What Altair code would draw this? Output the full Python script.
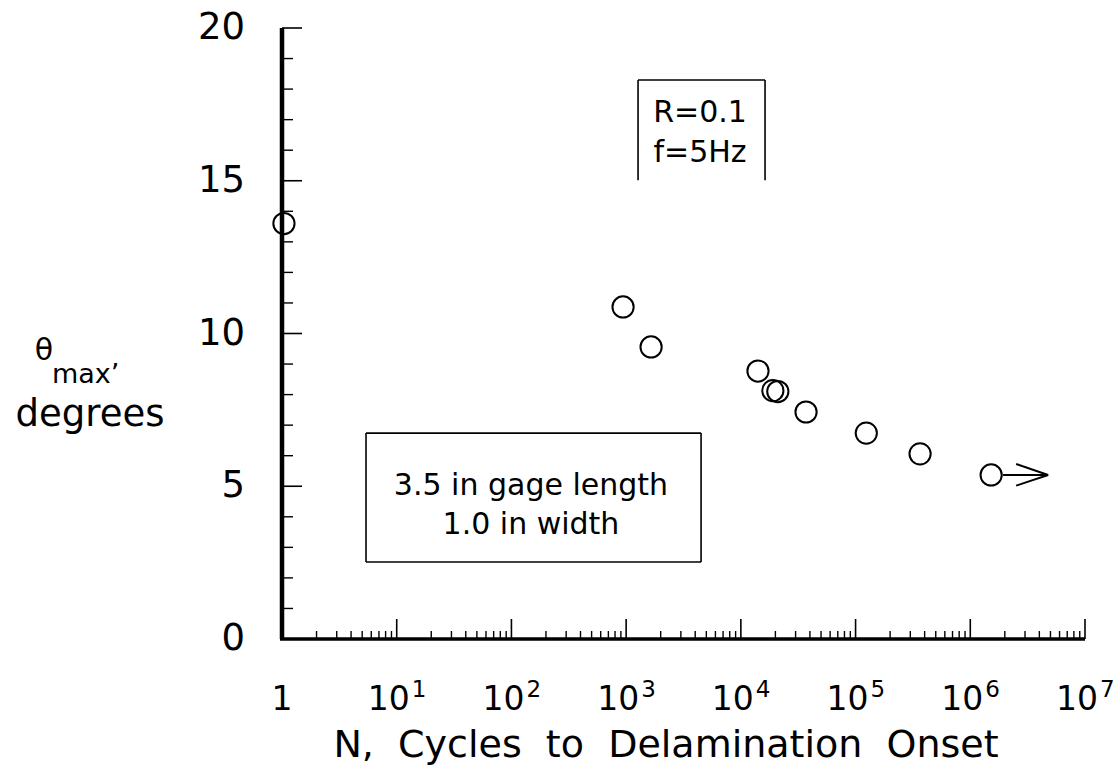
import altair as alt
import pandas as pd

FONT = "DejaVu Sans"

# ---- data ----
N_cycles = [1.04, 940, 1650, 14100, 19000, 21000, 37000, 124000, 365000, 1520000]
theta_max = [13.6, 10.87, 9.56, 8.77, 8.13, 8.10, 7.43, 6.74, 6.06, 5.37]

y_major = [0, 5, 10, 15, 20]
y_labels = ["0", "5", "10", "15", "20"]
y_minor = [1, 2, 3, 4, 6, 7, 8, 9, 11, 12, 13, 14, 16, 17, 18, 19]
x_major = [1, 10, 100, 1e3, 1e4, 1e5, 1e6, 1e7]
decades = [1, 10, 100, 1e3, 1e4, 1e5, 1e6]
mantissas = [2, 3, 4, 5, 6, 7, 8, 9]
x_minor = [m * d for d in decades for m in mantissas]

label_one = ["1"]
label_decades = [10, 100, 1e3, 1e4, 1e5, 1e6, 1e7]
label_base = ["10"] * 7
label_exp = ["1", "2", "3", "4", "5", "6", "7"]

x_title = "N,\u00a0 Cycles\u00a0 to\u00a0 Delamination\u00a0 Onset"

# box 1 (R, f) : open at the bottom
box1_x = [1270, 1270, 16250]
box1_x2 = [16250, 1270, 16250]
box1_y = [18.3, 18.3, 18.3]
box1_y2 = [18.3, 15.02, 15.02]
box1_text = ["R=0.1", "f=5Hz"]
box1_text_x = [4410, 4410]
box1_text_y = [16.92, 15.61]

# box 2 (specimen)
box2_x = [5.4, 5.4, 4500, 5.4]
box2_x2 = [4500, 5.4, 4500, 4500]
box2_y = [6.74, 6.74, 6.74, 2.52]
box2_y2 = [6.74, 2.52, 2.52, 2.52]
box2_text = ["3.5 in gage length", "1.0 in width"]
box2_text_x = [148, 148]
box2_text_y = [4.71, 3.44]

# run-out arrow
arrow_x = [1.93e6, 2.51e6, 2.51e6]
arrow_x2 = [4.77e6, 4.77e6, 4.77e6]
arrow_y = [5.37, 5.73, 5.02]
arrow_y2 = [5.37, 5.37, 5.37]

W, H = 803, 611

xscale = alt.Scale(type="log", domain=[1, 1e7], nice=False)
yscale = alt.Scale(domain=[0, 20], nice=False, zero=False)

pts = pd.DataFrame({"N": N_cycles, "theta": theta_max})
points = alt.Chart(pts).mark_point(
    shape="circle", filled=False, size=450, strokeWidth=2, color="black", opacity=1
).encode(
    x=alt.X("N:Q", scale=xscale, axis=None),
    y=alt.Y("theta:Q", scale=yscale, axis=None),
)

# axis lines
y_axis_line = alt.Chart(pd.DataFrame({"a": [0]})).mark_rule(color="black", strokeWidth=4.5).encode(
    x=alt.value(0), y=alt.value(0), y2=alt.value(H))
x_axis_line = alt.Chart(pd.DataFrame({"a": [0]})).mark_rule(color="black", strokeWidth=3.5).encode(
    x=alt.value(-2), x2=alt.value(W), y=alt.value(H))

ymaj = alt.Chart(pd.DataFrame({"v": y_major})).mark_rule(color="black", strokeWidth=1.6).encode(
    y=alt.Y("v:Q", scale=yscale, axis=None), x=alt.value(0), x2=alt.value(20))
ymin = alt.Chart(pd.DataFrame({"v": y_minor})).mark_rule(color="black", strokeWidth=1.4).encode(
    y=alt.Y("v:Q", scale=yscale, axis=None), x=alt.value(0), x2=alt.value(11))
xmaj = alt.Chart(pd.DataFrame({"v": x_major})).mark_rule(color="black", strokeWidth=1.6).encode(
    x=alt.X("v:Q", scale=xscale, axis=None), y=alt.value(H), y2=alt.value(H - 20))
xmin = alt.Chart(pd.DataFrame({"v": x_minor})).mark_rule(color="black", strokeWidth=1.4).encode(
    x=alt.X("v:Q", scale=xscale, axis=None), y=alt.value(H), y2=alt.value(H - 8))

ylab = alt.Chart(pd.DataFrame({"v": y_major, "t": y_labels})).mark_text(
    font=FONT, fontSize=37, align="right", baseline="middle", color="black").encode(
    y=alt.Y("v:Q", scale=yscale, axis=None), x=alt.value(-37), text="t:N")

def segments(xs, x2s, ys, y2s, width):
    df = pd.DataFrame({"x": xs, "x2": x2s, "y": ys, "y2": y2s})
    return alt.Chart(df).mark_rule(color="black", strokeWidth=width).encode(
        x=alt.X("x:Q", scale=xscale, axis=None), x2="x2:Q",
        y=alt.Y("y:Q", scale=yscale, axis=None), y2="y2:Q")

box1 = segments(box1_x, box1_x2, box1_y, box1_y2, 1.6)
box2 = segments(box2_x, box2_x2, box2_y, box2_y2, 1.6)
arrow = segments(arrow_x, arrow_x2, arrow_y, arrow_y2, 2)

def data_text(xs, ys, texts, size):
    df = pd.DataFrame({"x": xs, "y": ys, "t": texts})
    return alt.Chart(df).mark_text(font=FONT, fontSize=size, align="center",
                                   baseline="alphabetic", color="black").encode(
        x=alt.X("x:Q", scale=xscale, axis=None),
        y=alt.Y("y:Q", scale=yscale, axis=None), text="t:N")

box1_txt = data_text(box1_text_x, box1_text_y, box1_text, 30)
box2_txt = data_text(box2_text_x, box2_text_y, box2_text, 30)

xl_one = alt.Chart(pd.DataFrame({"v": [1], "t": label_one})).mark_text(
    font=FONT, fontSize=33, align="center", baseline="alphabetic", color="black").encode(
    x=alt.X("v:Q", scale=xscale, axis=None), y=alt.value(H + 71), text="t:N")
xl_base = alt.Chart(pd.DataFrame({"v": label_decades, "t": label_base})).mark_text(
    font=FONT, fontSize=33, align="right", baseline="alphabetic", dx=13, color="black").encode(
    x=alt.X("v:Q", scale=xscale, axis=None), y=alt.value(H + 71), text="t:N")
xl_exp = alt.Chart(pd.DataFrame({"v": label_decades, "t": label_exp})).mark_text(
    font=FONT, fontSize=23, align="left", baseline="alphabetic", dx=15, color="black").encode(
    x=alt.X("v:Q", scale=xscale, axis=None), y=alt.value(H + 58), text="t:N")

def px_text(text, x, y, size, align):
    return alt.Chart(pd.DataFrame({"t": [text]})).mark_text(
        font=FONT, fontSize=size, align=align, baseline="alphabetic", color="black").encode(
        x=alt.value(x), y=alt.value(y), text="t:N")

xt = px_text(x_title, 384, 729, 38, "center")
yt_theta = px_text("\u03b8", -238, 332, 30, "center")
yt_sub = px_text("max\u2019", -230, 355, 27, "left")
yt_deg = px_text("degrees", -192, 398, 37, "center")

chart = alt.layer(
    ymin, ymaj, xmin, xmaj, y_axis_line, x_axis_line, ylab, box1, box2, arrow,
    box1_txt, box2_txt, xl_one, xl_base, xl_exp, xt, yt_theta, yt_sub, yt_deg, points
).properties(
    width=W, height=H,
    autosize=alt.AutoSizeParams(type="none"),
    padding={"left": 282, "top": 28, "right": 30, "bottom": 135},
).configure_view(strokeWidth=0)

chart.save("out.html", embed_options={"renderer": "svg", "actions": False})
